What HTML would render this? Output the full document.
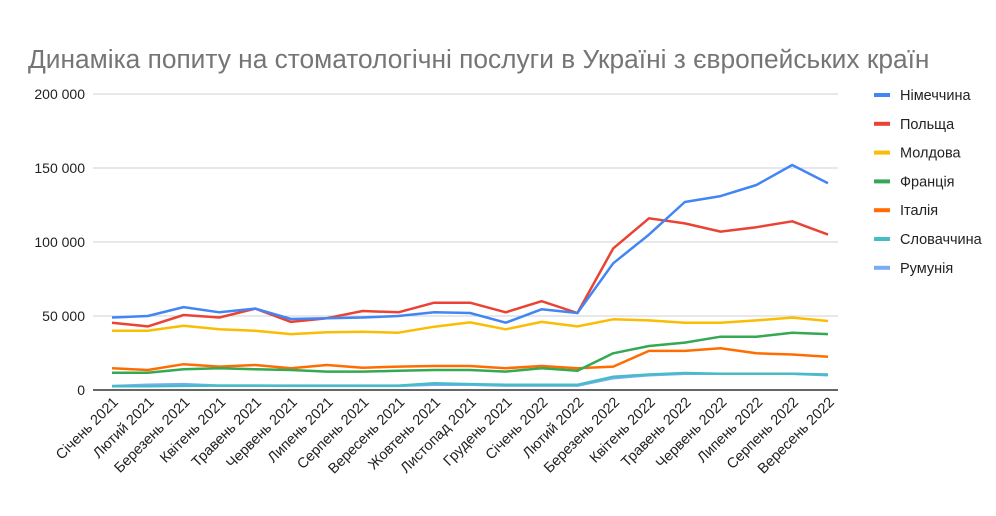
<!DOCTYPE html>
<html><head><meta charset="utf-8"><style>
body{margin:0;background:#fff;width:996px;height:511px;overflow:hidden;font-family:"Liberation Sans",sans-serif}
text{font-family:"Liberation Sans",sans-serif}
</style></head><body>
<svg id="chart" width="996" height="511" xmlns="http://www.w3.org/2000/svg">
<text x="28" y="68" font-size="26.3" fill="#757575">Динаміка попиту на стоматологічні послуги в Україні з європейських країн</text>
<g id="grid"></g><g id="xlabels"></g><g id="lines"></g><g id="legend"></g>
</svg>
<script>
const categories=["Січень 2021","Лютий 2021","Березень 2021","Квітень 2021","Травень 2021","Червень 2021","Липень 2021","Серпень 2021","Вересень 2021","Жовтень 2021","Листопад 2021","Грудень 2021","Січень 2022","Лютий 2022","Березень 2022","Квітень 2022","Травень 2022","Червень 2022","Липень 2022","Серпень 2022","Вересень 2022"];
const seriesNames=["Німеччина","Польща","Молдова","Франція","Італія","Словаччина","Румунія"];
const seriesColors=["#4285f4","#ea4335","#fbbc04","#34a853","#ff6d01","#46bdc6","#7baaf7"];
const germany=[49000,50000,56000,52500,55000,48000,48500,49000,50000,52500,52000,45500,54500,52000,85600,105000,127000,131000,138500,152000,139700];
const poland=[45500,43000,50700,49000,55000,46000,48500,53400,52500,59000,59000,52500,60000,52000,95700,116000,112600,107000,110000,114000,105000];
const moldova=[40000,40000,43400,41000,40000,37800,39000,39400,38700,42800,45700,41000,46000,43000,47800,47000,45500,45500,47000,48900,46600];
const france=[11700,11700,14000,14700,14000,13500,12400,12400,13000,13500,13500,12400,14700,13000,24800,29700,32000,36000,36000,38700,37800];
const italy=[14700,13500,17400,15800,16900,14700,16900,15000,15800,16200,16200,14700,16200,14700,15800,26400,26400,28200,24800,24000,22500];
const slovakia=[2500,2500,2800,3000,3000,3000,3000,3000,3000,4500,4000,3500,3500,3500,9000,10500,11500,11000,11000,11000,10500];
const romania=[2700,3500,4000,3000,3000,2800,2800,2800,2800,3500,3500,3000,3000,3000,8000,10000,11000,11000,11000,11000,10000];
const yTicks=[0,50000,100000,150000,200000];
const yTickLabels=["0","50 000","100 000","150 000","200 000"];
const allSeries=[germany,poland,moldova,france,italy,slovakia,romania];
const NS="http://www.w3.org/2000/svg";
const x0=112,x1=828,yb=390,yt=94,ymax=200000;
const xs=i=>x0+(x1-x0)*i/(categories.length-1);
const ys=v=>yb-(yb-yt)*v/ymax;
function mk(t,a,p){const e=document.createElementNS(NS,t);for(const k in a)e.setAttribute(k,a[k]);p.appendChild(e);return e;}
const grid=document.getElementById('grid');
yTicks.forEach((v,i)=>{
 const l=mk('line',{x1:93,x2:838,y1:ys(v),y2:ys(v),stroke:i==0?'#333':'#d0d0d0','stroke-width':i==0?1.5:1},grid);
 
 
 const t=mk('text',{x:85,y:ys(v)+5,'text-anchor':'end','font-size':14,fill:'#222'},grid);
 t.textContent=yTickLabels[i];
 
 
});
const xl=document.getElementById('xlabels');
categories.forEach((c,i)=>{
 const t=mk('text',{transform:`translate(${xs(i)+7},${403}) rotate(-45)`,'text-anchor':'end','font-size':14.5,fill:'#222'},xl);
 t.textContent=c;
 
 
});
const lg=document.getElementById('lines');
for(let s=allSeries.length-1;s>=0;s--){
 const d=allSeries[s].map((v,i)=>(i?'L':'M')+xs(i).toFixed(1)+' '+ys(v).toFixed(1)).join(' ');
 const p=mk('path',{d:d,fill:'none',stroke:seriesColors[s],'stroke-width':2.5,'stroke-linejoin':'round'},lg);
 
 
}
const leg=document.getElementById('legend');
seriesNames.forEach((n,i)=>{
 const y=95+i*28.8;
 const g=mk('g',{},leg);
 
 
 mk('rect',{x:874,y:y-2,width:16,height:4,fill:seriesColors[i]},g);
 const t=mk('text',{x:900,y:y+5,'font-size':14.5,fill:'#222'},g);
 t.textContent=n;
});
</script>
</body></html>
